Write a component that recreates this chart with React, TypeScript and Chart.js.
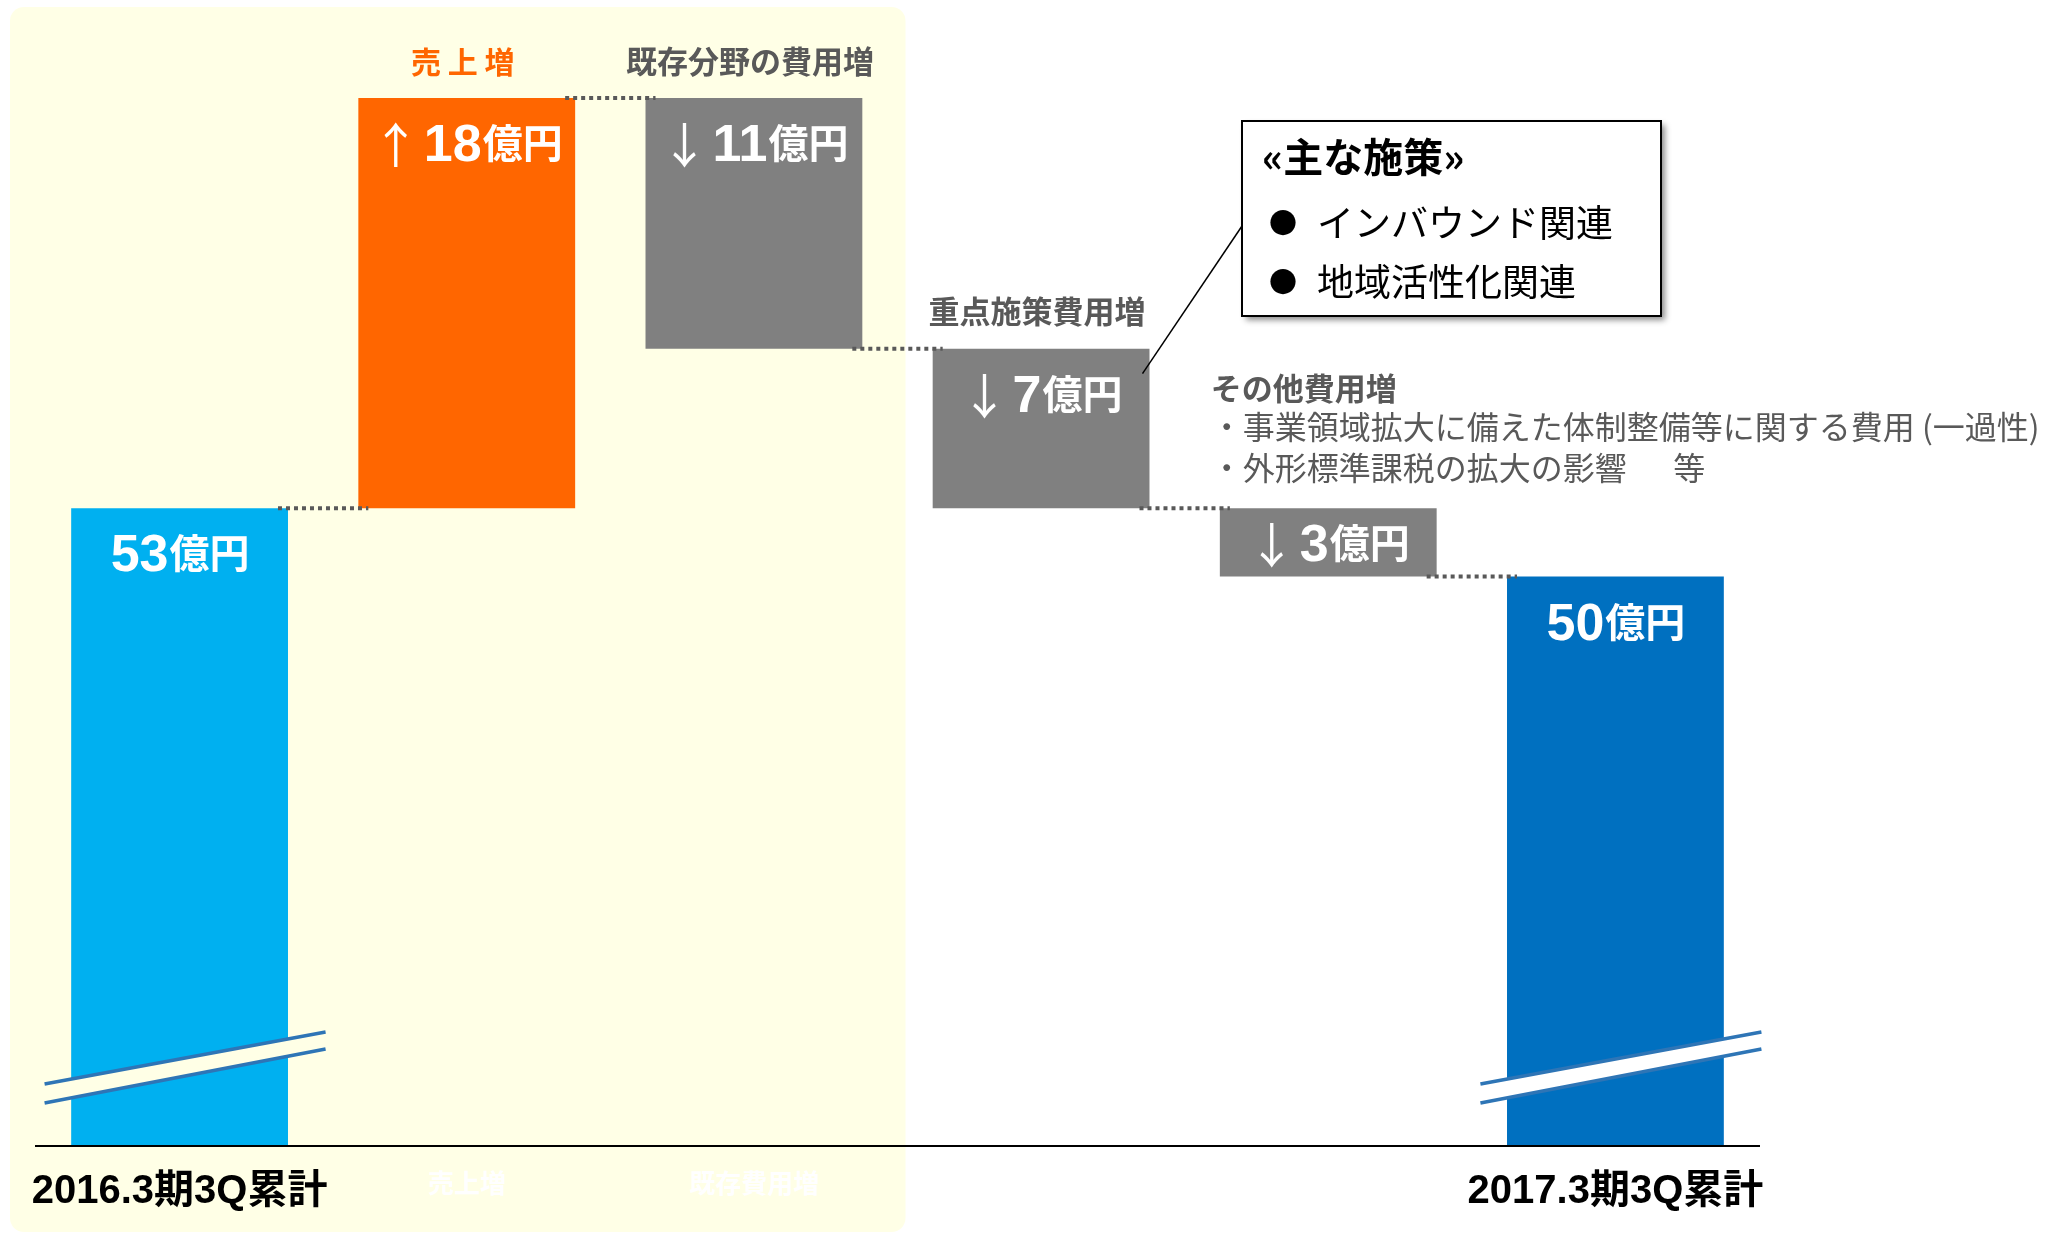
import React, { useEffect, useRef } from "react";
import { Chart, registerables } from "chart.js";

Chart.register(...registerables);

// ---------- data ----------
const categories = ["2016.3期3Q累計", "売上増", "既存費用増", "重点施策費用増", "その他費用増", "2017.3期3Q累計"];
const startValue = 53;
const changes = [18, -11, -7, -3];
const endValue = 50;
const axisFloor = 25;
const axisCeil = 75;
const unitLabel = "億円";
const barColors = ["#00B0F0", "#FF6600", "#808080", "#808080", "#808080", "#0070C0"];
const headerLabels = ["", "売 上 増", "既存分野の費用増", "重点施策費用増", "", ""];
const headerColors = ["", "#FF6600", "#595959", "#595959", "", ""];
const otherCostTitle = "その他費用増";
const otherCostNotes = ["・事業領域拡大に備えた体制整備等に関する費用 (一過性)", "・外形標準課税の拡大の影響　  等"];
const calloutTitle = "«主な施策»";
const calloutItems = ["インバウンド関連", "地域活性化関連"];

// ---------- derived ----------
const ranges: [number, number][] = [];
const levels: number[] = [startValue];
ranges.push([axisFloor, startValue]);
{
  let lv = startValue;
  for (const c of changes) {
    const nx = lv + c;
    ranges.push([Math.min(lv, nx), Math.max(lv, nx)]);
    lv = nx;
    levels.push(lv);
  }
}
ranges.push([axisFloor, endValue]);
const valueNumbers = [startValue, ...changes.map((c) => Math.abs(c)), endValue];
const valueArrows = ["", ...changes.map((c) => (c > 0 ? "↑" : "↓")), ""];

const PANEL = "#FFFFE6";
const GRAY_TEXT = "#595959";
const JP = '"Noto Sans CJK JP", "Liberation Sans", sans-serif';
const LAT = '"Liberation Sans", "Noto Sans CJK JP", sans-serif';

function barGeo(chart: any) {
  const meta = chart.getDatasetMeta(0);
  return meta.data.map((b: any) => {
    const p = b.getProps(["x", "y", "base", "width"], true);
    const top = Math.min(p.y, p.base);
    const bottom = Math.max(p.y, p.base);
    return { cx: p.x, w: p.width, left: p.x - p.width / 2, right: p.x + p.width / 2, top, bottom };
  });
}

const overlayPlugin = {
  id: "overlay",
  beforeDraw(chart: any) {
    const ctx = chart.ctx;
    const xs = chart.scales.x;
    ctx.save();
    ctx.fillStyle = "#FFFFFF";
    ctx.fillRect(0, 0, chart.width, chart.height);
    const left = xs.left - 26;
    const right = (xs.getPixelForValue(2) + xs.getPixelForValue(3)) / 2 + 8;
    const top = 7;
    const bottom = chart.height - 1;
    ctx.fillStyle = PANEL;
    ctx.beginPath();
    (ctx as any).roundRect(left, top, right - left, bottom - top, 14);
    ctx.fill();
    ctx.restore();
  },
  afterDatasetsDraw(chart: any) {
    const ctx = chart.ctx;
    const ys = chart.scales.y;
    const geo = barGeo(chart);
    ctx.save();

    // dotted connectors
    ctx.strokeStyle = GRAY_TEXT;
    ctx.lineWidth = 4;
    ctx.setLineDash([4, 4]);
    for (let i = 0; i < levels.length; i++) {
      const y = ys.getPixelForValue(levels[i]);
      ctx.beginPath();
      ctx.moveTo(geo[i].right - 10, y);
      ctx.lineTo(geo[i + 1].left + 10, y);
      ctx.stroke();
    }
    ctx.setLineDash([]);

    // axis break marks
    const b = ys.bottom;
    [0, geo.length - 1].forEach((i) => {
      const cx = geo[i].cx;
      const L = cx - 135, R = cx + 146;
      const u1 = b - 62, u2 = b - 114, l1 = b - 43, l2 = b - 97;
      ctx.fillStyle = i === 0 ? PANEL : "#FFFFFF";
      ctx.beginPath();
      ctx.moveTo(L, u1);
      ctx.lineTo(R, u2);
      ctx.lineTo(R, l2);
      ctx.lineTo(L, l1);
      ctx.closePath();
      ctx.fill();
      ctx.strokeStyle = "#2E75B6";
      ctx.lineWidth = 3.5;
      ctx.beginPath();
      ctx.moveTo(L, u1);
      ctx.lineTo(R, u2);
      ctx.moveTo(L, l1);
      ctx.lineTo(R, l2);
      ctx.stroke();
    });

    // value labels
    ctx.fillStyle = "#FFFFFF";
    ctx.textAlign = "left";
    ctx.textBaseline = "alphabetic";
    const arrowFont = `48px ${JP}`;
    const numFont = `bold 52px ${LAT}`;
    const unitFont = `bold 40px ${JP}`;
    geo.forEach((g: any, i: number) => {
      const baseline = Math.min(g.top + 63, (g.top + g.bottom) / 2 + 19);
      const arrow = valueArrows[i];
      const num = String(valueNumbers[i]);
      ctx.font = arrowFont;
      const wa = arrow ? ctx.measureText(arrow).width : 0;
      const gap = arrow ? 4 : 0;
      ctx.font = numFont;
      const wn = ctx.measureText(num).width;
      ctx.font = unitFont;
      const wu = ctx.measureText(unitLabel).width;
      let x = g.cx - (wa + gap + wn + wu) / 2;
      if (arrow) {
        ctx.font = arrowFont;
        ctx.fillText(arrow, x, baseline + 2);
        x += wa + gap;
      }
      ctx.font = numFont;
      ctx.fillText(num, x, baseline);
      x += wn + 1;
      ctx.font = unitFont;
      ctx.fillText(unitLabel, x, baseline - 3);
    });

    // header labels above bars
    ctx.textAlign = "center";
    ctx.textBaseline = "middle";
    headerLabels.forEach((t, i) => {
      if (!t) return;
      ctx.fillStyle = headerColors[i];
      ctx.font = `bold ${i === 1 ? 30 : 31}px ${JP}`;
      ctx.fillText(t, geo[i].cx - 4, geo[i].top - 37);
    });

    // other cost note
    const g5 = geo[4];
    ctx.textAlign = "left";
    ctx.fillStyle = GRAY_TEXT;
    ctx.font = `bold 31px ${JP}`;
    ctx.fillText(otherCostTitle, g5.left - 9, g5.top - 120);
    ctx.font = `32px ${JP}`;
    otherCostNotes.forEach((t, k) => {
      ctx.fillText(t, g5.left - 9, g5.top - 81 + k * 41);
    });

    // callout
    const g4 = geo[3];
    const bx = 1242, by = 121, bw = 419, bh = 195;
    ctx.strokeStyle = "#000000";
    ctx.lineWidth = 1.5;
    ctx.beginPath();
    ctx.moveTo(bx, by + 105);
    ctx.lineTo(g4.right - 7, g4.top + 25);
    ctx.stroke();
    ctx.save();
    ctx.shadowColor = "rgba(0,0,0,0.45)";
    ctx.shadowBlur = 6;
    ctx.shadowOffsetX = 4;
    ctx.shadowOffsetY = 4;
    ctx.fillStyle = "#FFFFFF";
    ctx.fillRect(bx, by, bw, bh);
    ctx.restore();
    ctx.lineWidth = 2;
    ctx.strokeRect(bx, by, bw, bh);
    ctx.fillStyle = "#000000";
    ctx.font = `bold 40px ${JP}`;
    ctx.fillText(calloutTitle, bx + 20, by + 36);
    calloutItems.forEach((t, k) => {
      const yy = by + 102 + k * 59;
      ctx.font = `28px ${JP}`;
      ctx.fillText("●", bx + 27, yy);
      ctx.font = `37px ${JP}`;
      ctx.fillText(t, bx + 75, yy);
    });

    ctx.restore();
  },
};

export default function App() {
  const ref = useRef<HTMLCanvasElement>(null);
  useEffect(() => {
    document.body.style.margin = "0";
    const isEnd = (i: number) => i === 0 || i === categories.length - 1;
    const chart = new Chart(ref.current as HTMLCanvasElement, {
      type: "bar",
      data: {
        labels: categories,
        datasets: [
          {
            data: ranges as any,
            backgroundColor: barColors,
            borderWidth: 0,
            borderSkipped: false,
            barPercentage: 0.755,
            categoryPercentage: 1,
          },
        ],
      },
      options: {
        animation: false,
        responsive: false,
        devicePixelRatio: 1,
        layout: { padding: { left: 36, right: 300, top: 7, bottom: 0 } },
        plugins: { legend: { display: false }, tooltip: { enabled: false } },
        scales: {
          x: {
            grid: { display: false, drawTicks: false },
            border: { display: true, color: "#000000", width: 2, z: 1 },
            afterFit: (scale: any) => {
              scale.height = 87;
            },
            ticks: {
              autoSkip: false,
              maxRotation: 0,
              minRotation: 0,
              padding: 22,
              color: (c: any) => (isEnd(c.index) ? "#000000" : "#FFFFFF"),
              font: (c: any) =>
                isEnd(c.index)
                  ? { family: LAT, size: 40, weight: "bold" }
                  : { family: JP, size: 26, weight: "bold" },
            },
          },
          y: { display: false, min: axisFloor, max: axisCeil },
        },
      },
      plugins: [overlayPlugin],
    } as any);
    return () => chart.destroy();
  }, []);
  return (
    <div style={{ position: "absolute", left: 0, top: 0, width: 2059, height: 1233 }}>
      <canvas ref={ref} width={2059} height={1233} style={{ display: "block", width: 2059, height: 1233 }} />
    </div>
  );
}
